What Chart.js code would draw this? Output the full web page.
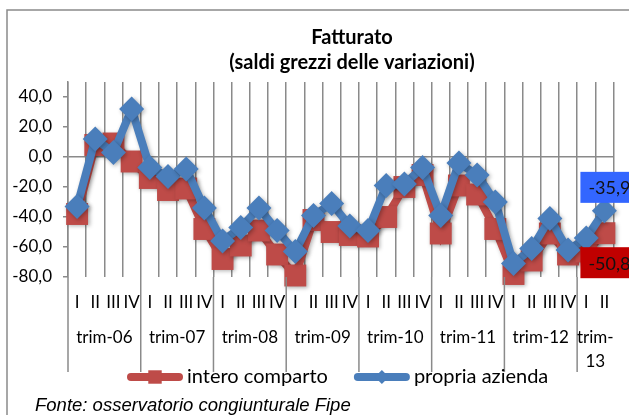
<!DOCTYPE html>
<html>
<head>
<meta charset="utf-8">
<script src="https://cdn.jsdelivr.net/npm/chart.js@4.4.1/dist/chart.umd.min.js"></script>
<style>
  html, body { margin: 0; padding: 0; background: #fff; }
  #wrap { width: 629px; height: 415px; }
</style>
</head>
<body>
<div id="wrap"><canvas id="fatturato" width="629" height="415"></canvas></div>
<script>
// --- dati ---
var categories = ['I','II','III','IV', 'I','II','III','IV', 'I','II','III','IV', 'I','II','III','IV',
                  'I','II','III','IV', 'I','II','III','IV', 'I','II','III','IV', 'I','II'];
var yearLabels = ['trim-06', 'trim-07', 'trim-08', 'trim-09', 'trim-10', 'trim-11', 'trim-12', ['trim-', '13']];
var yearSizes = [4, 4, 4, 4, 4, 4, 4, 2];

var interoComparto = [-38, 8, 9, -3,  -14, -22, -21, -48,  -68, -59, -49, -65,  -79, -42, -50, -52,
                      -53, -40, -20, -12,  -51, -19, -25, -48,  -78, -69, -51, -65,  -63, -50.8];
var propriaAzienda = [-33, 12, 3, 32,  -7, -13, -8, -34,  -56, -47, -34, -49,  -63, -39, -31, -46,
                      -49, -19, -18, -7,  -39, -4, -12, -30,  -71, -61, -41, -62,  -54, -35.9];

var yTickValues = [-80, -60, -40, -20, 0, 20, 40];

var gridColor = '#8a8a8a';
var fontMain = 'Lato, "Open Sans", sans-serif';

function fmt(v) { return v.toFixed(1).replace('.', ','); }

// cornice, sfondo e titolo
var framePlugin = {
    id: 'frame',
    beforeDraw: function(chart) {
        var ctx = chart.ctx;
        ctx.save();
        ctx.fillStyle = '#fff';
        ctx.fillRect(0, 0, chart.width, chart.height);
        ctx.strokeStyle = gridColor;
        ctx.lineWidth = 1.5;
        ctx.strokeRect(7, 10, chart.width + 100, chart.height + 100);
        ctx.fillStyle = '#000';
        ctx.font = 'bold 20px ' + fontMain;
        ctx.textAlign = 'center';
        ctx.textBaseline = 'middle';
        ctx.fillText('Fatturato', 352, 38);
        ctx.fillText('(saldi grezzi delle variazioni)', 352, 63);
        ctx.restore();
    }
};

// ombra leggera sotto linee e marker
var shadowPlugin = {
    id: 'softShadow',
    beforeDatasetsDraw: function(chart) {
        var c = chart.ctx;
        c.save();
        c.shadowColor = 'rgba(0,0,0,0.3)';
        c.shadowBlur = 4;
        c.shadowOffsetX = 1.5;
        c.shadowOffsetY = 1.5;
    },
    afterDatasetsDraw: function(chart) { chart.ctx.restore(); }
};

// etichetta dell'ultimo valore
var valueLabelPlugin = {
    id: 'valueLabels',
    afterDatasetsDraw: function(chart) {
        var ctx = chart.ctx;
        ctx.save();
        ctx.font = '18px ' + fontMain;
        ctx.textAlign = 'left';
        ctx.textBaseline = 'middle';
        chart.data.datasets.forEach(function(ds, i) {
            var meta = chart.getDatasetMeta(i);
            var last = ds.data.length - 1;
            var pt = meta.data[last];
            var txt = fmt(ds.data[last]);
            var w = ctx.measureText(txt).width + 16, h = 31;
            var left = pt.x - 24;
            var cy = ds.labelSide === 'above' ? pt.y - 8 - h / 2 : pt.y + 14 + h / 2;
            ctx.fillStyle = ds.labelBg;
            ctx.fillRect(left, cy - h / 2, w, h);
            ctx.fillStyle = '#111';
            ctx.fillText(txt, left + 8, cy + 1);
        });
        ctx.restore();
    }
};

// seconda riga dell'asse: anni e divisori
var yearAxisPlugin = {
    id: 'yearAxis',
    afterDraw: function(chart) {
        var ctx = chart.ctx, x = chart.scales.x, area = chart.chartArea;
        var step = x.getPixelForValue(1) - x.getPixelForValue(0);
        var edge = function(i) { return x.getPixelForValue(i) - step / 2; };
        var start = 0;
        ctx.save();
        ctx.strokeStyle = gridColor;
        ctx.lineWidth = 1.5;
        ctx.font = '17px ' + fontMain;
        ctx.fillStyle = '#000';
        ctx.textAlign = 'center';
        ctx.textBaseline = 'middle';
        yearLabels.forEach(function(lbl, k) {
            var x0 = edge(start), x1 = edge(start + yearSizes[k]);
            ctx.beginPath();
            ctx.moveTo(x0, area.bottom);
            ctx.lineTo(x0, 372);
            ctx.stroke();
            var lines = Array.isArray(lbl) ? lbl : [lbl];
            lines.forEach(function(t, j) { ctx.fillText(t, (x0 + x1) / 2, 338 + j * 23.5); });
            start += yearSizes[k];
        });
        ctx.restore();
    }
};

// legenda con linea + marker, e fonte
var legendPlugin = {
    id: 'legendaManuale',
    afterDraw: function(chart) {
        var ctx = chart.ctx;
        var y = 377, x = 127;
        var items = [chart.data.datasets[1], chart.data.datasets[0]]; // intero comparto prima
        ctx.save();
        ctx.font = '20px ' + fontMain;
        ctx.textBaseline = 'middle';
        items.forEach(function(ds) {
            ctx.strokeStyle = ds.borderColor;
            ctx.lineWidth = 8;
            ctx.lineCap = 'round';
            ctx.beginPath();
            ctx.moveTo(x + 4, y);
            ctx.lineTo(x + 52, y);
            ctx.stroke();
            ctx.fillStyle = ds.backgroundColor;
            Chart.helpers.drawPoint(ctx, {
                pointStyle: ds.pointStyle,
                radius: ds.pointStyle === 'rect' ? 9.5 : 7,
                borderWidth: 0
            }, x + 28, y);
            ctx.fillStyle = '#000';
            ctx.textAlign = 'left';
            ctx.fillText(ds.label, x + 60, y);
            x = x + 60 + ctx.measureText(ds.label).width + 26;
        });
        ctx.font = 'italic 18.5px "Liberation Sans", Arial, sans-serif';
        ctx.fillText('Fonte: osservatorio congiunturale Fipe', 35, 406);
        ctx.restore();
    }
};

var ctxCanvas = document.getElementById('fatturato');
var chart = new Chart(ctxCanvas, {
    type: 'line',
    data: {
        labels: categories,
        datasets: [{
            label: 'propria azienda',
            data: propriaAzienda,
            borderColor: '#4A7EBB',
            backgroundColor: '#4A7EBB',
            borderWidth: 8,
            pointStyle: 'rectRot',
            pointRadius: 12.5,
            pointBorderWidth: 0,
            tension: 0,
            clip: false,
            order: 1,
            labelSide: 'above',
            labelBg: '#3366FF'
        }, {
            label: 'intero comparto',
            data: interoComparto,
            borderColor: '#BE4B48',
            backgroundColor: '#BE4B48',
            borderWidth: 8,
            pointStyle: 'rect',
            pointRadius: 15.5,
            pointBorderWidth: 0,
            tension: 0,
            clip: false,
            order: 2,
            labelSide: 'below',
            labelBg: '#C00000'
        }]
    },
    options: {
        responsive: false,
        animation: false,
        devicePixelRatio: 1,
        layout: { padding: { top: 82, left: 0, right: 10, bottom: 0 } },
        plugins: {
            legend: { display: false },
            title: { display: false },
            tooltip: { enabled: false }
        },
        scales: {
            x: {
                offset: true,
                grid: { offset: true, color: gridColor, lineWidth: 1.5, drawTicks: false },
                border: { display: false },
                ticks: {
                    color: '#000',
                    font: { family: fontMain, size: 17 },
                    padding: 15,
                    maxRotation: 0,
                    autoSkip: false
                },
                afterFit: function(scale) { scale.height = 138; }
            },
            y: {
                min: -80,
                max: 50,
                afterBuildTicks: function(scale) {
                    scale.ticks = yTickValues.map(function(v) { return { value: v }; });
                },
                grid: {
                    color: function(c) { return c.tick && c.tick.value === 0 ? gridColor : 'rgba(0,0,0,0)'; },
                    tickColor: gridColor,
                    tickLength: 5,
                    lineWidth: 1.5
                },
                border: { display: true, color: gridColor, width: 1.5 },
                ticks: {
                    color: '#000',
                    font: { family: fontMain, size: 17 },
                    padding: 11,
                    callback: function(v) { return fmt(v); }
                },
                afterFit: function(scale) { scale.width = 68; }
            }
        }
    },
    plugins: [framePlugin, shadowPlugin, valueLabelPlugin, yearAxisPlugin, legendPlugin]
});
</script>
</body>
</html>
